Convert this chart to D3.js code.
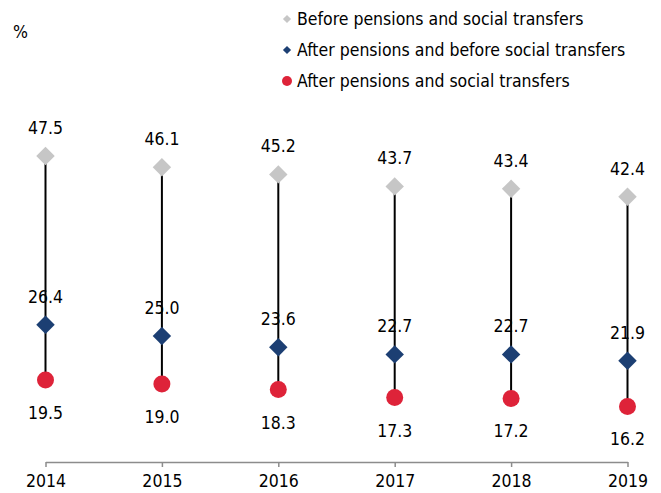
<!DOCTYPE html>
<html><head><meta charset="utf-8">
<script src="https://cdn.jsdelivr.net/npm/d3@7"></script>
<style>
body{margin:0;background:#fff;}
text{font-family:"DejaVu Sans Condensed","DejaVu Sans",sans-serif;fill:#000;}
</style></head>
<body>
<svg id="chart" width="661" height="493"></svg>
<script>
const years = ["2014","2015","2016","2017","2018","2019"];
const beforeAll = [47.5, 46.1, 45.2, 43.7, 43.4, 42.4];
const afterPensions = [26.4, 25.0, 23.6, 22.7, 22.7, 21.9];
const afterAll = [19.5, 19.0, 18.3, 17.3, 17.2, 16.2];
const seriesNames = ["Before pensions and social transfers","After pensions and before social transfers","After pensions and social transfers"];
const colors = ["#c6c6c6","#1c3f73","#de2339"];
const FS = 17.5;

const svg = d3.select("#chart");
const x = d3.scalePoint().domain(years).range([45.5, 627.5]).padding(0);
const y = d3.scaleLinear().domain([9, 49]).range([464, 144]);

// x axis
const axis = d3.axisBottom(x).tickSize(5).tickSizeOuter(0);
const gx = svg.append("g").attr("transform","translate(0,462)").call(axis);
gx.select(".domain").attr("stroke","#8c8c8c").attr("stroke-width",1.5);
gx.selectAll(".tick line").attr("stroke","#8c8c8c").attr("stroke-width",1.5);
gx.selectAll(".tick text").attr("font-size",FS).attr("dy","0.95em")
  .style("font-family",'"DejaVu Sans Condensed","DejaVu Sans",sans-serif');

// % label
svg.append("text").attr("x",13).attr("y",38).attr("font-size",FS).text("%");

const data = years.map((yr,i)=>({yr, a:beforeAll[i], b:afterPensions[i], c:afterAll[i]}));

// connecting lines
svg.append("g").selectAll("line").data(data).join("line")
  .attr("x1",d=>x(d.yr)).attr("x2",d=>x(d.yr))
  .attr("y1",d=>y(d.a)).attr("y2",d=>y(d.c))
  .attr("stroke","#000").attr("stroke-width",2);

const diamond = d3.symbol().type(d3.symbolSquare).size(170);
svg.append("g").selectAll("path").data(data).join("path")
  .attr("d",diamond)
  .attr("transform",d=>`translate(${x(d.yr)},${y(d.a)}) rotate(45)`)
  .attr("fill",colors[0]);
svg.append("g").selectAll("path").data(data).join("path")
  .attr("d",diamond)
  .attr("transform",d=>`translate(${x(d.yr)},${y(d.b)}) rotate(45)`)
  .attr("fill",colors[1]);
svg.append("g").selectAll("circle").data(data).join("circle")
  .attr("cx",d=>x(d.yr)).attr("cy",d=>y(d.c)).attr("r",8.5)
  .attr("fill",colors[2]);

// labels
const fmt = d3.format(".1f");
const lab = (key, dy) => svg.append("g").selectAll("text").data(data).join("text")
  .attr("x",d=>x(d.yr)).attr("y",d=>y(d[key])+dy)
  .attr("text-anchor","middle").attr("font-size",FS)
  .attr("dominant-baseline","central")
  .text(d=>fmt(d[key]));
lab("a",-28); lab("b",-28); lab("c",33);

// legend
const lg = svg.append("g");
seriesNames.forEach((n,i)=>{
  const cy = 19 + i*31;
  if(i<2){
    lg.append("path").attr("d",d3.symbol().type(d3.symbolSquare).size(34))
      .attr("transform",`translate(287,${cy}) rotate(45)`).attr("fill",colors[i]);
  } else {
    lg.append("circle").attr("cx",287).attr("cy",cy).attr("r",5).attr("fill",colors[i]);
  }
  lg.append("text").attr("x",297).attr("y",cy).attr("dominant-baseline","central")
    .attr("font-size",FS).text(n);
});
</script>
</body></html>
